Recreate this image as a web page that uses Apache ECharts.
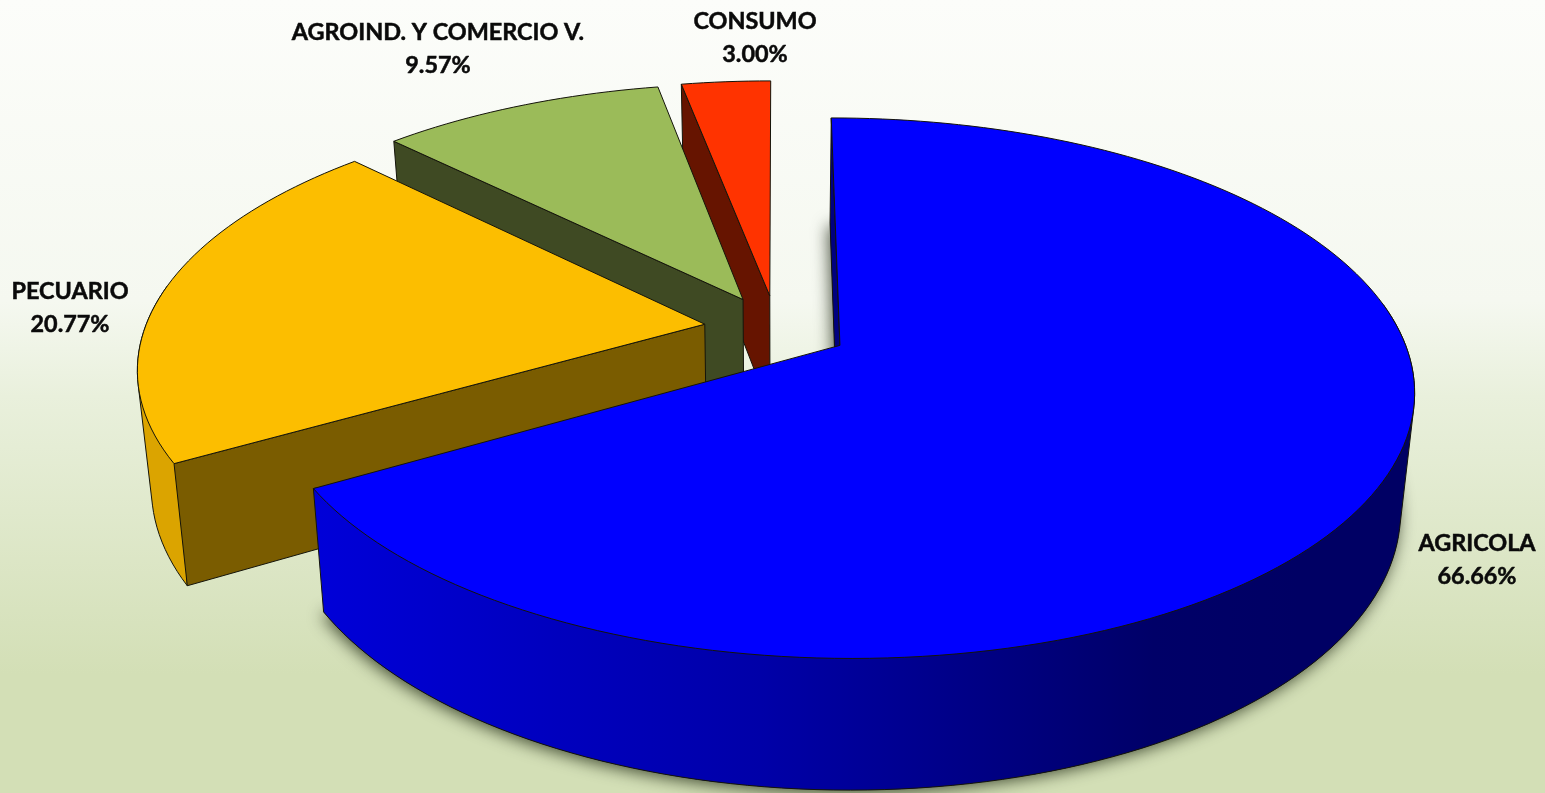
<!DOCTYPE html>
<html>
<head>
<meta charset="utf-8">
<style>html,body{margin:0;padding:0;background:#fff}#c{width:1545px;height:793px}</style>
<script src="https://cdn.jsdelivr.net/npm/echarts@6/dist/echarts.min.js"></script>
</head>
<body>
<div id="c"></div>
<script>
var categories = ['AGRICOLA', 'PECUARIO', 'AGROIND. Y COMERCIO V.', 'CONSUMO'];
var shares = [66.66, 20.77, 9.57, 3.00];
var topColors = ['#0000ff', '#fcbe00', '#9bbb59', '#ff3300'];
var radialWallColors = ['#000080', '#7a5c00', '#3f4a23', '#661400'];
var outerWallColors = ['#0000c0', '#dba400', '#6f8a3c', '#b02400'];
var labelAnchors = [[1477, 560], [70, 307.5], [438, 49], [755, 38]];

var PIE = {cx: 776.5, cy: 328.5, R: 560, explode: 72.5, q: 0.00028, s: 0.461,
           scaleLow: 0.978, h0: 119, hk: 0.049};
var total = shares.reduce(function (a, b) { return a + b; }, 0);

function project(X, Y) {
  var d = 1 + PIE.q * Y;
  return [PIE.cx + X / d, PIE.cy - PIE.s * Y / d];
}
function lower(p) {
  return [PIE.cx + (p[0] - PIE.cx) * PIE.scaleLow,
          p[1] + PIE.h0 + PIE.hk * (p[1] - 400)];
}
function sliceGeom(i) {
  var before = 0;
  for (var k = 0; k < i; k++) before += shares[k];
  var a0 = 90 - before / total * 360;
  var a1 = a0 - shares[i] / total * 360;
  var mid = (a0 + a1) / 2 * Math.PI / 180;
  var ax = PIE.explode * Math.cos(mid), ay = PIE.explode * Math.sin(mid);
  var arc = [], front = [];
  var n = Math.max(8, Math.round((a0 - a1) / 1.5));
  for (var j = 0; j <= n; j++) {
    var t = (a0 + (a1 - a0) * j / n) * Math.PI / 180;
    var p = project(ax + PIE.R * Math.cos(t), ay + PIE.R * Math.sin(t));
    arc.push(p);
    if (Math.sin(t) < 0.17) front.push(p);   // the part of the rim facing the viewer
  }
  return {apex: project(ax, ay), arc: arc, front: front};
}
function hull(points) {
  var pts = points.slice().sort(function (a, b) { return a[0] - b[0] || a[1] - b[1]; });
  function cross(o, a, b) { return (a[0] - o[0]) * (b[1] - o[1]) - (a[1] - o[1]) * (b[0] - o[0]); }
  var lo = [], up = [];
  pts.forEach(function (p) {
    while (lo.length > 1 && cross(lo[lo.length - 2], lo[lo.length - 1], p) <= 0) lo.pop();
    lo.push(p);
  });
  pts.slice().reverse().forEach(function (p) {
    while (up.length > 1 && cross(up[up.length - 2], up[up.length - 1], p) <= 0) up.pop();
    up.push(p);
  });
  return lo.slice(0, -1).concat(up.slice(0, -1));
}
var lineStyle = {stroke: '#14140a', lineWidth: 1, lineJoin: 'round'};
function poly(points, fill, extra) {
  var st = Object.assign({fill: fill}, lineStyle, extra || {});
  return {type: 'polygon', shape: {points: points}, style: st, silent: true};
}
function renderSlice(params, api) {
  var i = api.value(0);
  var g = sliceGeom(i);
  var apex = g.apex, arc = g.arc, first = arc[0];
  var lowArc = arc.map(lower), lowApex = lower(apex);
  var children = [];
  // cast shadow: the bottom face
  if (i === 0) {
    children.push(poly([lowApex].concat(lowArc), '#000050', {
      shadowBlur: 16, shadowColor: 'rgba(20,30,10,0.75)', shadowOffsetX: -2, shadowOffsetY: 3, stroke: 'none'
    }));
  }
  var outerFill = outerWallColors[i];
  if (i === 0) {
    outerFill = new echarts.graphic.LinearGradient(320, 0, 1300, 0, [
      {offset: 0, color: '#0000d8'}, {offset: 0.45, color: '#0000a8'},
      {offset: 0.85, color: '#000068'}, {offset: 1, color: '#000064'}
    ], true);
  }
  if (g.front.length > 1) {
    children.push(poly(hull(g.front.concat(g.front.map(lower))), outerFill));
  }
  // the one cut face that faces the viewer
  children.push(poly([apex, first, lowArc[0], lowApex], radialWallColors[i]));
  // top face
  children.push(poly([apex].concat(arc), topColors[i]));
  children.push({
    type: 'text', silent: true, x: labelAnchors[i][0], y: labelAnchors[i][1],
    style: {
      text: categories[i] + '\n' + shares[i].toFixed(2) + '%',
      fontFamily: 'Lato', fontWeight: 'bold', fontSize: 23.4, lineHeight: 33,
      fill: '#0a0a0a', stroke: '#0a0a0a', lineWidth: 0.5,
      align: 'center', verticalAlign: 'middle'
    }
  });
  return {type: 'group', children: children};
}
var chart = echarts.init(document.getElementById('c'), null, {renderer: 'canvas'});
chart.setOption({
  animation: false,
  backgroundColor: new echarts.graphic.LinearGradient(0, 0, 0, 1, [
    {offset: 0, color: '#fcfdfa'}, {offset: 0.38, color: '#f5f8f0'},
    {offset: 0.5, color: '#e9f0dc'}, {offset: 0.85, color: '#d3dfb6'}, {offset: 1, color: '#d3dfb6'}
  ]),
  series: [{
    type: 'custom',
    coordinateSystem: 'none',
    renderItem: renderSlice,
    data: shares.map(function (v, i) { return [i, v]; }).reverse()
  }]
});
</script>
</body>
</html>
